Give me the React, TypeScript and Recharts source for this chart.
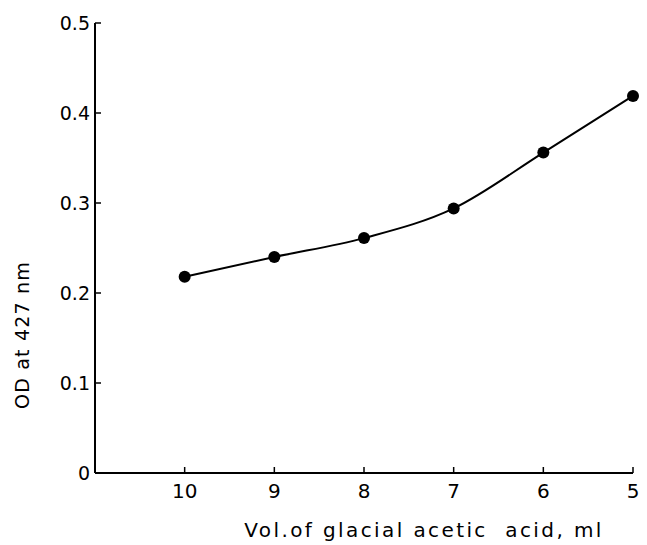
import { LineChart, Line, XAxis, YAxis, Label } from "recharts";

const volumes = [10, 9, 8, 7, 6, 5];
const od = [0.218, 0.24, 0.261, 0.294, 0.356, 0.419];
const xTicks = [10, 9, 8, 7, 6, 5];
const yTicks = [0, 0.1, 0.2, 0.3, 0.4, 0.5];

const data = volumes.map((v, i) => ({ vol: v, od: od[i] }));

const font = "'DejaVu Sans', sans-serif";

function YTick({ x, y, payload }: any) {
    const v = payload.value;
    const label = v === 0 ? "0" : v.toFixed(1);
    return <g>
        {v !== 0 && <line x1={x} y1={y} x2={x + 6} y2={y} stroke="#000" strokeWidth={1.5} />}
        <text x={x - 5} y={y + 7} textAnchor="end" fontSize={19} fontFamily={font} fill="#000">{label}</text>
    </g>
}

function XTick({ x, y, payload }: any) {
    return <g>
        <line x1={x} y1={y} x2={x} y2={y - 6} stroke="#000" strokeWidth={1.5} />
        <text x={x} y={y + 25} textAnchor="middle" fontSize={20} fontFamily={font} fill="#000">{payload.value}</text>
    </g>
}

export default function App() {
    return <div>
        <style>{`body{margin:0;background:#fff}`}</style>
        <LineChart width={647} height={545} data={data}
                   margin={{ top: 23, right: 14, bottom: 42, left: 35 }}>
            <XAxis dataKey="vol" type="number" domain={[5, 11]} reversed ticks={xTicks}
                   height={30} tickSize={0} tickMargin={0} tick={<XTick />}
                   axisLine={{ stroke: "#000", strokeWidth: 2 }} tickLine={false}>
                <Label content={() =>
                    <text x={424} y={537} textAnchor="middle" fontSize={20} fontFamily={font}
                          letterSpacing={2.4} style={{ whiteSpace: "pre" }} fill="#000">
                        {"Vol.of glacial acetic  acid, ml"}
                    </text>} />
            </XAxis>
            <YAxis type="number" domain={[0, 0.5]} ticks={yTicks} width={60}
                   tickSize={0} tickMargin={0} tick={<YTick />} interval={0}
                   axisLine={{ stroke: "#000", strokeWidth: 2 }} tickLine={false}>
                <Label content={() =>
                    <text x={29} y={335} transform="rotate(-90 29 335)" textAnchor="middle"
                          fontSize={19} fontFamily={font} letterSpacing={1.2} fill="#000">
                        OD at 427 nm
                    </text>} />
            </YAxis>
            <Line type="monotone" dataKey="od" stroke="#000" strokeWidth={2}
                  dot={{ r: 6, fill: "#000", stroke: "#000", strokeWidth: 0 }}
                  isAnimationActive={false} />
        </LineChart>
    </div>
}
